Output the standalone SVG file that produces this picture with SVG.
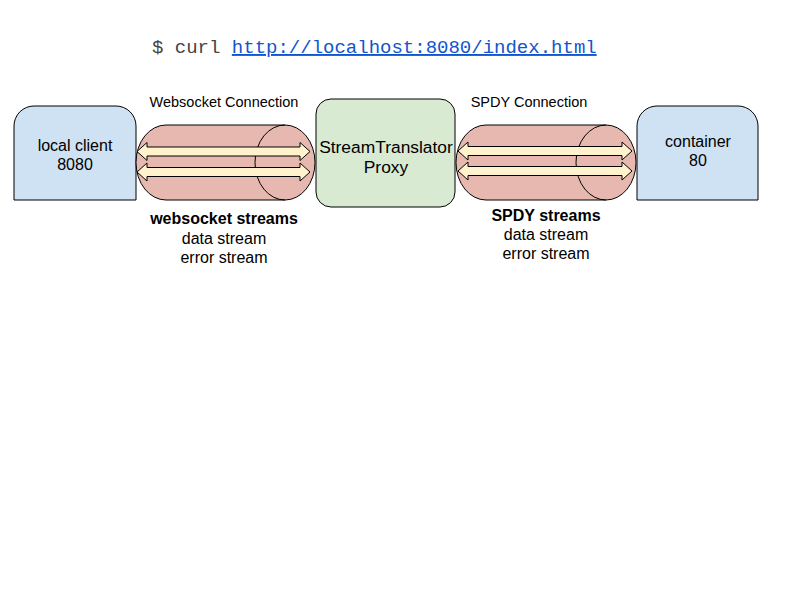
<svg xmlns="http://www.w3.org/2000/svg" width="800" height="600" viewBox="0 0 800 600">
<style>
  .lbl { font-family: "Liberation Sans", Arial, sans-serif; fill: #000; text-anchor: middle; }
  .node { stroke: #000; stroke-width: 1; }
  .cyl { fill: #e6b8af; stroke: #000; stroke-width: 1; }
  .arr { fill: #fff2cc; stroke: #000; stroke-width: 1; stroke-linejoin: miter; }
  .mono { font-family: "Liberation Mono", "Courier New", monospace; font-size: 19px; }
</style>
<rect width="800" height="600" fill="#fff"/>
<g id="command">
  <text class="mono" x="152" y="53" fill="#444">$ curl <tspan fill="#1155cc" text-decoration="underline">http://localhost:8080/index.html</tspan></text>
</g>
<g id="local-client">
  <path class="node" fill="#cfe2f3" d="M14,200 L14,126 A20,20 0 0 1 34,106 L116,106 A20,20 0 0 1 136,126 L136,200 Z"/>
  <text class="lbl" x="75" y="151" font-size="16">local client</text>
  <text class="lbl" x="75" y="170" font-size="16">8080</text>
</g>
<g id="proxy">
  <rect class="node" fill="#d9ead3" x="316" y="99" width="139" height="108" rx="15" ry="15"/>
  <text class="lbl" x="386" y="153" font-size="17.4">StreamTranslator</text>
  <text class="lbl" x="386" y="173" font-size="17.4">Proxy</text>
</g>
<g id="container">
  <path class="node" fill="#cfe2f3" d="M637,200 L637,126 A20,20 0 0 1 657,106 L738,106 A20,20 0 0 1 758,126 L758,200 Z"/>
  <text class="lbl" x="698" y="147" font-size="16">container</text>
  <text class="lbl" x="698" y="166" font-size="16">80</text>
</g>
<g id="connectors">
  <g id="websocket-connection">
    <path class="cyl" d="M166,125 L285,125 A30,37.5 0 0 1 285,200 L166,200 A30,37.5 0 0 1 166,125 Z"/>
    <path fill="none" stroke="#000" stroke-width="1" d="M285,125 A30,37.5 0 0 0 285,200"/>
    <path class="arr" d="M137,151.5 L147,142.5 L147,147 L300,147 L300,142.5 L310,151.5 L300,160.5 L300,156 L147,156 L147,160.5 Z"/>
    <path class="arr" d="M137,172 L147,163 L147,167.5 L300,167.5 L300,163 L310,172 L300,181 L300,176.5 L147,176.5 L147,181 Z"/>
  </g>
  <g id="spdy-connection">
    <path class="cyl" d="M486,125 L606,125 A30,37.5 0 0 1 606,200 L486,200 A30,37.5 0 0 1 486,125 Z"/>
    <path fill="none" stroke="#000" stroke-width="1" d="M606,125 A30,37.5 0 0 0 606,200"/>
    <path class="arr" d="M458,151 L468,142 L468,146.5 L622,146.5 L622,142 L632,151 L622,160 L622,155.5 L468,155.5 L468,160 Z"/>
    <path class="arr" d="M458,171 L468,162 L468,166.5 L622,166.5 L622,162 L632,171 L622,180 L622,175.5 L468,175.5 L468,180 Z"/>
  </g>
</g>
<g id="labels">
  <text class="lbl" x="224" y="107" font-size="14.5">Websocket Connection</text>
  <text class="lbl" x="529" y="107" font-size="14.5">SPDY Connection</text>
  <text class="lbl" x="224" y="224" font-size="16" font-weight="bold">websocket streams</text>
  <text class="lbl" x="224" y="244" font-size="16">data stream</text>
  <text class="lbl" x="224" y="263" font-size="16">error stream</text>
  <text class="lbl" x="546" y="221" font-size="16" font-weight="bold">SPDY streams</text>
  <text class="lbl" x="546" y="240" font-size="16">data stream</text>
  <text class="lbl" x="546" y="259" font-size="16">error stream</text>
</g>
</svg>
